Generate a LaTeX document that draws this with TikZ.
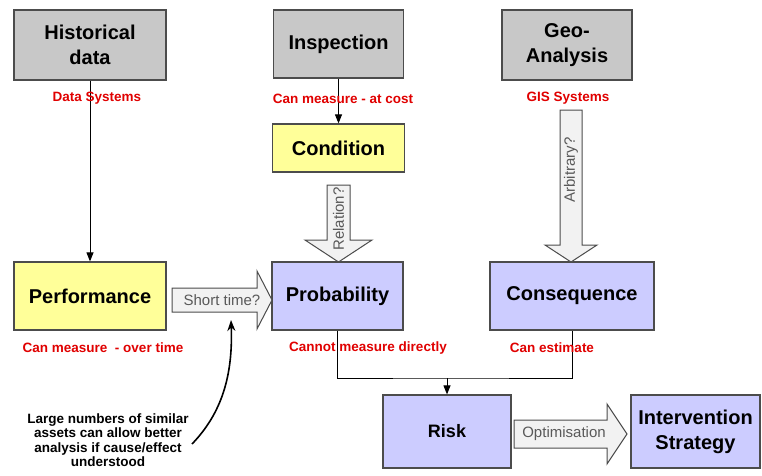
\documentclass[tikz,border=0pt]{standalone}
\usepackage{fontspec}
\setmainfont{Liberation Sans}
\usetikzlibrary{arrows.meta}
\definecolor{boxgray}{HTML}{C8C8C8}
\definecolor{boxyellow}{HTML}{FFFF99}
\definecolor{boxblue}{HTML}{CCCCFF}
\definecolor{notered}{HTML}{E00000}
\begin{document}
\begin{tikzpicture}[x=1pt, y=1pt, >={Triangle[length=9pt,width=7pt]},
    box/.style={draw=black!70, line width=1.2pt, inner sep=0pt, align=center,
        font=\fontsize{20}{25}\selectfont\bfseries},
    note/.style={text=notered, font=\fontsize{13.5}{15}\selectfont\bfseries},
    fatarrow/.style={draw=black!70, line width=1pt, fill=gray!10},
    arrowtext/.style={text=black!65, font=\fontsize{15}{17}\selectfont}]
\useasboundingbox (0,0) rectangle (762,475);
% sources
\node[box, fill=boxgray, minimum width=152, minimum height=70] (hist) at (90,430) {Historical\\data};
\node[box, fill=boxgray, minimum width=130, minimum height=68] (insp) at (338.5,431) {Inspection};
\node[box, fill=boxgray, minimum width=130, minimum height=70] (geo) at (567,430) {Geo-\\Analysis};
\node[box, fill=boxyellow, minimum width=132, minimum height=48] (cond) at (338.5,327) {Condition};
% middle row
\node[box, fill=boxyellow, minimum width=152, minimum height=68] (perf) at (90,179) {Performance};
\node[box, fill=boxblue, minimum width=131, minimum height=68] (prob) at (337.5,179) {Probability};
\node[box, fill=boxblue, minimum width=164, minimum height=68] (cons) at (572,179) {Consequence};
% bottom row
\node[box, fill=boxblue, minimum width=128, minimum height=73, font=\fontsize{18}{22}\selectfont\bfseries] (risk) at (447,43.5) {Risk};
\node[box, fill=boxblue, minimum width=129, minimum height=73] (strat) at (695.5,43.5) {Intervention\\Strategy};

\draw[line width=1pt, ->] (hist) -- (perf);
\draw[line width=1pt, ->] (insp) -- (cond);
\coordinate (join) at (447,97);
\draw[line width=1pt] (prob.south) |- (join) -| (cons.south);
\draw[line width=1pt, ->] (join) -- (risk);

% block arrows
\draw[fatarrow] (172,187)--(257,187)--(257,204)--(272,175)--(257,146)--(257,163)--(172,163)--cycle;
\node[arrowtext] (short) at (222,175) {Short time?};
\draw[fatarrow] (327,290)--(327,235)--(305,235)--(338.5,213)--(372,235)--(350,235)--(350,290)--cycle;
\node[arrowtext, rotate=90] (rel) at (338.5,256) {Relation?};
\draw[fatarrow] (560,365)--(560,230)--(545,230)--(571,213)--(597,230)--(582,230)--(582,365)--cycle;
\node[arrowtext, rotate=90] (arb) at (571,305) {Arbitrary?};
\draw[fatarrow] (514,27)--(607,27)--(607,11)--(627,41)--(607,71)--(607,55)--(514,55)--cycle;
\node[arrowtext] (opt) at (564,41) {Optimisation};

% red notes
\node[note] (n1) at (97,377) {Data Systems};
\node[note] (n2) at (343,376) {Can measure - at cost};
\node[note] (n3) at (568,377) {GIS Systems};
\node[note] (n4) at (103,127) {Can measure\ \ - over time};
\node[note] (n5) at (368,127) {Cannot measure directly};
\node[note] (n6) at (552,127) {Can estimate};

% remark
\node[align=center, font=\fontsize{13.5}{14.5}\selectfont\bfseries] (remark) at (108,35)
    {Large numbers of similar\\assets can allow better\\analysis if cause/effect\\understood};
\coordinate (aim) at (231,155);
\draw[line width=1.6pt, -{Stealth[length=11pt,width=8pt]}] (192,31) .. controls (222,62) and (233,100) .. (aim);
\end{tikzpicture}
\end{document}
